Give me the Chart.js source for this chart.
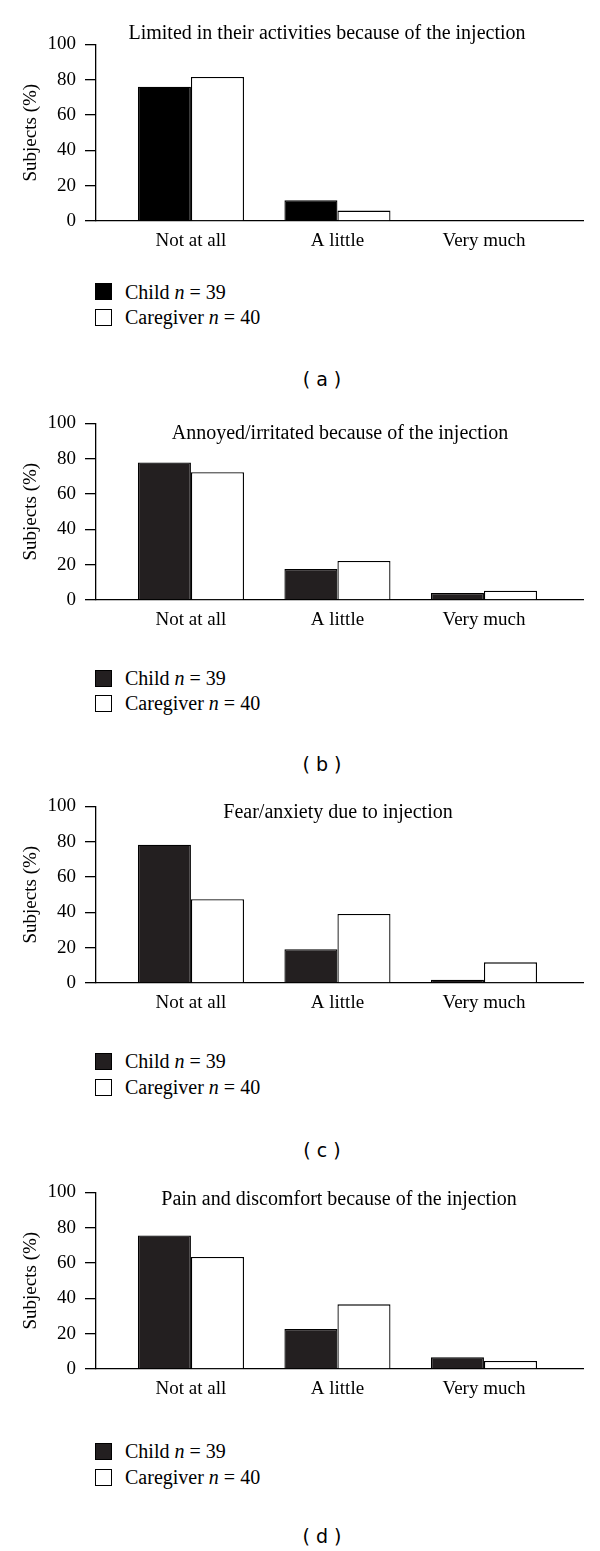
<!DOCTYPE html>
<html>
<head>
<meta charset="utf-8">
<script src="https://cdn.jsdelivr.net/npm/chart.js@4.4.1/dist/chart.umd.min.js"></script>
<style>
body { margin: 0; background: #fff; }
#page { position: relative; width: 600px; height: 1551px; font-family: "Liberation Serif", serif; color: #000; }
canvas { position: absolute; left: 0; }
.title { position: absolute; font-size: 20px; line-height: 20px; white-space: nowrap; transform: translate(-50%, -50%); }
.box { position: absolute; left: 95px; width: 17px; height: 17px; box-sizing: border-box; border: 1.3px solid #000; }
.legtxt { position: absolute; left: 125px; font-size: 20px; line-height: 20px; white-space: nowrap; }
.cap { position: absolute; font-family: "DejaVu Sans", sans-serif; font-size: 19px; line-height: 19px; white-space: pre; transform: translate(-50%, -50%); }
</style>
</head>
<body>
<div id="page"></div>
<script>
// data (percent of subjects)
var categories = ['Not at all', 'A little', 'Very much'];
var yTicks = [0, 20, 40, 60, 80, 100];
var panelTitles = [
    'Limited in their activities because of the injection',
    'Annoyed/irritated because of the injection',
    'Fear/anxiety due to injection',
    'Pain and discomfort because of the injection'
];
var panelLetters = ['a', 'b', 'c', 'd'];
var seriesNames = ['Child', 'Caregiver'];
var seriesN = [39, 40];

var childA = [76, 11.7, 0];
var caregiverA = [81.5, 5.9, 0];
var childB = [77.9, 17.6, 4.0];
var caregiverB = [72.4, 22.1, 5.3];
var childC = [78.3, 19.1, 1.9];
var caregiverC = [47.4, 39.1, 11.7];
var childD = [75.6, 22.7, 6.6];
var caregiverD = [63.4, 36.6, 4.5];

var childSets = [childA, childB, childC, childD];
var caregiverSets = [caregiverA, caregiverB, caregiverC, caregiverD];

// layout
var plotTop = [44, 423, 806, 1192];
var plotH = 177;
var titlePos = [[327, 32], [340, 432], [338, 811], [339, 1198]];
var legendY = [[291.5, 317], [678, 703], [1061, 1087], [1451, 1477]];
var captionY = [379, 764, 1150, 1536];
var childFill = ['#000000', '#231f20', '#231f20', '#231f20'];

var page = document.getElementById('page');
var serif = 'Liberation Serif';

function toPoints(arr) {
    return arr.map(function (v, i) { return { x: i + 1, y: v }; });
}

function addEl(cls, text, left, top) {
    var d = document.createElement('div');
    d.className = cls;
    d.innerHTML = text;
    d.style.left = left + 'px';
    d.style.top = top + 'px';
    page.appendChild(d);
    return d;
}

for (var p = 0; p < 4; p++) {
    var cv = document.createElement('canvas');
    cv.width = 600;
    cv.height = plotH + 20 + 42;
    cv.style.top = (plotTop[p] - 20) + 'px';
    page.appendChild(cv);

    new Chart(cv, {
        type: 'bar',
        data: {
            datasets: [{
                label: seriesNames[0],
                data: toPoints(childSets[p]),
                backgroundColor: childFill[p],
                borderColor: '#000',
                borderWidth: 1.3
            }, {
                label: seriesNames[1],
                data: toPoints(caregiverSets[p]),
                backgroundColor: '#ffffff',
                borderColor: '#000',
                borderWidth: 1.3
            }]
        },
        options: {
            responsive: false,
            animation: false,
            categoryPercentage: 0.724,
            barPercentage: 1,
            layout: { padding: { left: 0, right: 17, top: 20, bottom: 0 } },
            scales: {
                x: {
                    type: 'linear',
                    offset: false,
                    min: 0.352,
                    max: 3.676,
                    afterBuildTicks: function (scale) {
                        scale.ticks = categories.map(function (c, i) { return { value: i + 1 }; });
                    },
                    afterFit: function (scale) { scale.height = 42; },
                    grid: { display: false, drawTicks: false },
                    border: { display: true, color: '#000', width: 1.3 },
                    ticks: {
                        autoSkip: false,
                        maxRotation: 0,
                        padding: 9,
                        color: '#000',
                        font: { family: serif, size: 19 },
                        callback: function (v) { return categories[v - 1] || ''; }
                    }
                },
                y: {
                    min: 0,
                    max: 100,
                    afterBuildTicks: function (scale) {
                        scale.ticks = yTicks.map(function (v) { return { value: v }; });
                    },
                    afterFit: function (scale) { scale.width = 96; },
                    grid: { drawOnChartArea: false, tickLength: 11, color: '#000', lineWidth: 1.3 },
                    border: { display: true, color: '#000', width: 1.3 },
                    ticks: { padding: 9, color: '#000', font: { family: serif, size: 19 } },
                    title: {
                        display: true,
                        text: 'Subjects (%)',
                        color: '#000',
                        font: { family: serif, size: 19 },
                        padding: { top: 20, bottom: 0 }
                    }
                }
            },
            plugins: {
                legend: { display: false },
                tooltip: { enabled: false }
            }
        }
    });

    addEl('title', panelTitles[p], titlePos[p][0], titlePos[p][1]);

    for (var s = 0; s < 2; s++) {
        var b = addEl('box', '', 95, legendY[p][s] - 8.5);
        b.style.background = s === 0 ? childFill[p] : '#fff';
        addEl('legtxt', seriesNames[s] + ' <i>n</i> = ' + seriesN[s], 125, legendY[p][s] - 10);
    }

    addEl('cap', '( ' + panelLetters[p] + ' )', 322, captionY[p]);
}
</script>
</body>
</html>
